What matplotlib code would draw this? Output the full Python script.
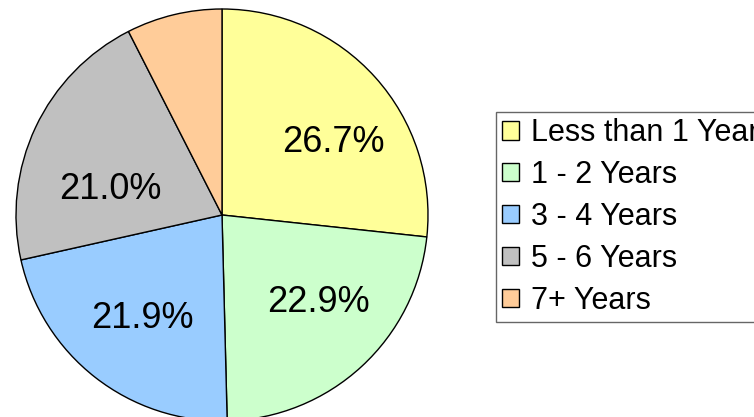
import matplotlib.pyplot as plt
from matplotlib.patches import Patch

plt.rcParams['font.family'] = ['Liberation Sans', 'DejaVu Sans']

# data
labels = ["Less than 1 Year", "1 - 2 Years", "3 - 4 Years", "5 - 6 Years", "7+ Years"]
shares = [26.7, 22.9, 21.9, 21.0, 7.5]
colors = ["#FFFF99", "#CCFFCC", "#99CCFF", "#C0C0C0", "#FFCC99"]
shown = [True, True, True, True, False]   # excel hid the small one

# where excel put the % text (fraction of radius), not mid-angle
label_xy = [(0.541, 0.369), (0.466, -0.405), (-0.388, -0.485), (-0.541, 0.141), (0, 0)]

W, H = 754, 417
fig = plt.figure(figsize=(W / 100, H / 100), dpi=100)

# pie centre ~ (222, 215) px, radius ~206 px
cx, cy, R = 222, 215, 206
ax = fig.add_axes([(cx - R) / W, (H - cy - R) / H, 2 * R / W, 2 * R / H])

wedges, texts, autotexts = ax.pie(
    shares, colors=colors, startangle=90, counterclock=False, radius=1,
    autopct="%.1f%%", pctdistance=0.63,
    wedgeprops=dict(edgecolor="black", linewidth=1.0),
    textprops=dict(fontsize=26, color="black"),
)
ax.set_xlim(-1, 1)
ax.set_ylim(-1, 1)
ax.axis("off")
for w in wedges:
    w.set_clip_on(False)
for t, xy, s in zip(autotexts, label_xy, shown):
    t.set_position(xy)
    t.set_ha("center")
    t.set_va("center_baseline")
    t.set_visible(s)

# legend runs off the right edge, same as the original export
handles = [Patch(facecolor=c, edgecolor="black", linewidth=1.0) for c in colors]
leg = fig.legend(
    handles, labels, loc="upper left", bbox_to_anchor=(496 / W, 1 - 112 / H),
    fontsize=22, frameon=True, fancybox=False, shadow=False,
    handlelength=0.55, handleheight=0.55, handletextpad=0.38,
    labelspacing=0.39, borderpad=0.2, borderaxespad=0,
)
leg.get_frame().set_edgecolor("#404040")
leg.get_frame().set_linewidth(1.0)

fig.savefig("out.png", dpi=100)
